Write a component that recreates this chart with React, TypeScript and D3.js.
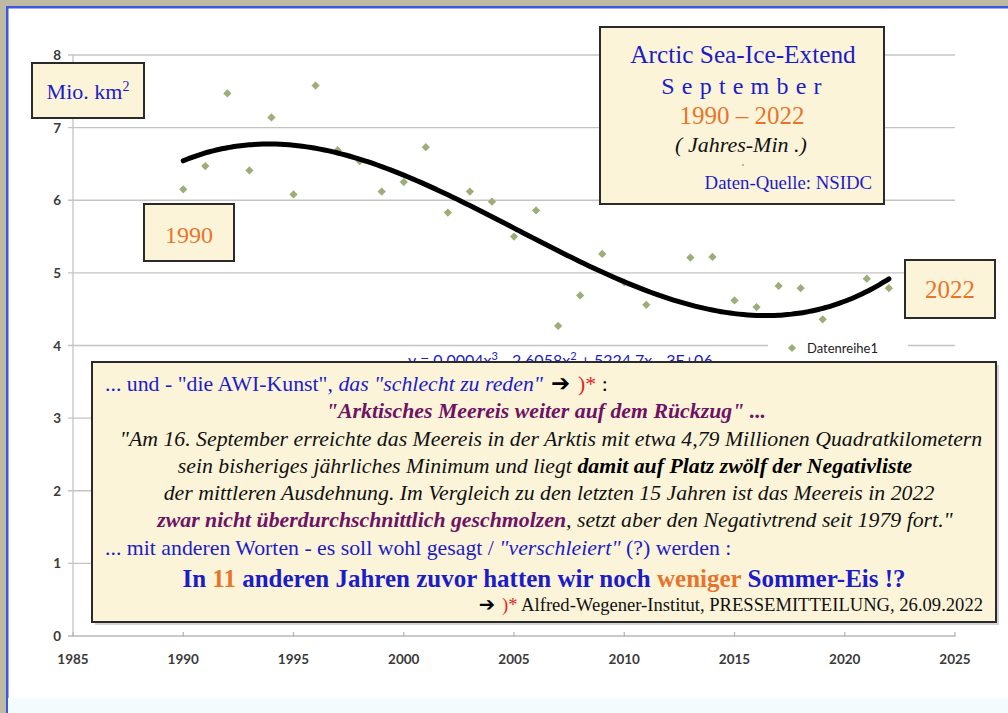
import React from 'react'
import * as d3 from 'd3'

// NSIDC September extent (Mio. km²)
const YEARS = [1990, 1991, 1992, 1993, 1994, 1995, 1996, 1997, 1998, 1999, 2000, 2001, 2002, 2003, 2004, 2005, 2006, 2007, 2008, 2009, 2010, 2011, 2012, 2013, 2014, 2015, 2016, 2017, 2018, 2019, 2020, 2021, 2022]
const EXTENT = [6.15, 6.47, 7.47, 6.41, 7.14, 6.08, 7.58, 6.69, 6.54, 6.12, 6.25, 6.73, 5.83, 6.12, 5.98, 5.5, 5.86, 4.27, 4.69, 5.26, 4.87, 4.56, 3.57, 5.21, 5.22, 4.62, 4.53, 4.82, 4.79, 4.36, 3.92, 4.92, 4.79]
const X_TICKS = [1985, 1990, 1995, 2000, 2005, 2010, 2015, 2020, 2025]
const Y_TICKS = [0, 1, 2, 3, 4, 5, 6, 7, 8]

const BLUE = '#1c1cc8'
const ORANGE = '#e8742c'
const PURPLE = '#6e1264'
const RED = '#e42424'
const CREAM = '#fbf4d9'
const SERIF = '"Liberation Serif", "Times New Roman", serif'
const SANS = 'Lato, "Open Sans", sans-serif'

// least squares cubic, like Excel's trendline
function polyfit(xs: number[], ys: number[], deg: number) {
  const n = deg + 1
  const m = Array.from({ length: n }, () => new Array(n + 1).fill(0))
  xs.forEach((x, k) => {
    for (let i = 0; i < n; i++) {
      for (let j = 0; j < n; j++) m[i][j] += Math.pow(x, i + j)
      m[i][n] += ys[k] * Math.pow(x, i)
    }
  })
  for (let c = 0; c < n; c++) {
    let p = c
    for (let r = c + 1; r < n; r++) if (Math.abs(m[r][c]) > Math.abs(m[p][c])) p = r
    ;[m[c], m[p]] = [m[p], m[c]]
    for (let r = 0; r < n; r++) {
      if (r === c) continue
      const f = m[r][c] / m[c][c]
      for (let j = c; j <= n; j++) m[r][j] -= f * m[c][j]
    }
  }
  const coef = m.map((row, i) => row[n] / row[i])
  return (x: number) => coef.reduce((s, a, i) => s + a * Math.pow(x, i), 0)
}

type Seg = { t: string, fill?: string, it?: boolean, b?: boolean }

const LINES: { y: number, anchor: 'start' | 'middle' | 'end', x: number, size: number, segs: Seg[] }[] = [
  { y: 391, anchor: 'start', x: 105, size: 21.8, segs: [
    { t: '... und - "die AWI-Kunst",', fill: BLUE },
    { t: ' das "schlecht zu reden"', fill: BLUE, it: true },
    { t: ' \u2794 ', fill: '#000', b: true },
    { t: ')*', fill: RED },
    { t: ' :', fill: '#000' }
  ] },
  { y: 418, anchor: 'middle', x: 546, size: 21.8, segs: [
    { t: '"Arktisches Meereis weiter auf dem Rückzug" ...', fill: PURPLE, it: true, b: true }
  ] },
  { y: 446, anchor: 'middle', x: 551, size: 21.8, segs: [
    { t: '"Am 16. September erreichte das Meereis in der Arktis mit etwa 4,79 Millionen Quadratkilometern', fill: '#111', it: true }
  ] },
  { y: 473, anchor: 'middle', x: 545, size: 21.8, segs: [
    { t: 'sein bisheriges jährliches Minimum und liegt ', fill: '#111', it: true },
    { t: 'damit auf Platz zwölf der Negativliste', fill: '#000', it: true, b: true }
  ] },
  { y: 500, anchor: 'middle', x: 549, size: 21.8, segs: [
    { t: 'der mittleren Ausdehnung. Im Vergleich zu den letzten 15 Jahren ist das Meereis in 2022', fill: '#111', it: true }
  ] },
  { y: 527, anchor: 'middle', x: 555, size: 21.8, segs: [
    { t: 'zwar nicht überdurchschnittlich geschmolzen', fill: PURPLE, it: true, b: true },
    { t: ', setzt aber den Negativtrend seit 1979 fort."', fill: '#111', it: true }
  ] },
  { y: 555, anchor: 'start', x: 105, size: 21.8, segs: [
    { t: '... mit anderen Worten - es soll wohl gesagt / ', fill: BLUE },
    { t: '"verschleiert"', fill: BLUE, it: true },
    { t: ' (?) werden :', fill: BLUE }
  ] },
  { y: 587, anchor: 'middle', x: 544, size: 25, segs: [
    { t: 'In ', fill: BLUE, b: true },
    { t: '11', fill: ORANGE, b: true },
    { t: ' anderen Jahren zuvor hatten wir noch ', fill: BLUE, b: true },
    { t: 'weniger', fill: ORANGE, b: true },
    { t: ' Sommer-Eis !?', fill: BLUE, b: true }
  ] },
  { y: 611, anchor: 'end', x: 983, size: 18.6, segs: [
    { t: '\u2794 ', fill: '#000', b: true },
    { t: ')*', fill: RED },
    { t: ' Alfred-Wegener-Institut, PRESSEMITTEILUNG, 26.09.2022', fill: '#111' }
  ] }
]

const Box = ({ x0, y0, x1, y1 }: { x0: number, y0: number, y1: number, x1: number }) => (
  <rect x={x0} y={y0} width={x1 - x0} height={y1 - y0} fill={CREAM} stroke="#2a2a2a" strokeWidth={2} />
)

export default function App() {
  const width = 1008
  const height = 713
  const x = d3.scaleLinear().domain([1985, 2025]).range([73, 955])
  const y = d3.scaleLinear().domain([0, 8]).range([636, 55])

  const fit = polyfit(YEARS.map(d => d - 2006), EXTENT, 3)
  const curveYears = d3.range(1990, 2022.001, 0.2)
  const line = d3.line<number>().x(d => x(d)).y(d => y(fit(d - 2006))).curve(d3.curveMonotoneX)
  const diamond = d3.symbol().type(d3.symbolSquare).size(34)

  return (
    <div style={{ position: 'absolute', left: 0, top: 0 }}>
      <svg width={width} height={height} style={{ display: 'block' }}>
        <rect width={width} height={height} fill="#fff" />
        <rect x={0} y={0} width={width} height={6} fill="#bdb9a3" />
        <rect x={0} y={0} width={6} height={height} fill="#bdb9a3" />
        <rect x={6} y={6} width={width - 6} height={2.5} fill="#3c56e0" />
        <rect x={6} y={6} width={2.5} height={height - 6} fill="#3c56e0" />
        <rect x={8} y={698} width={width - 8} height={15} fill="#f3fbfd" />

        {/* grid */}
        {Y_TICKS.filter(t => t > 0).map(t => (
          <line key={t} x1={68} x2={x(2025)} y1={y(t)} y2={y(t)} stroke="#c4c4c4" strokeWidth={1.3} />
        ))}
        <line x1={x(1985)} x2={x(1985)} y1={y(8)} y2={y(0)} stroke="#c4c4c4" strokeWidth={1.3} />
        <line x1={68} x2={x(2025)} y1={y(0)} y2={y(0)} stroke="#b8b8b8" strokeWidth={1.3} />
        {X_TICKS.map(t => (
          <line key={t} x1={x(t)} x2={x(t)} y1={y(0) - 4} y2={y(0) + 1} stroke="#b8b8b8" strokeWidth={1.3} />
        ))}
        {Y_TICKS.map(t => (
          <text key={t} x={61} y={y(t) + 5} textAnchor="end" fontFamily={SANS} fontSize={13.5} fontWeight={700} fill="#3a3a3a">{t}</text>
        ))}
        {X_TICKS.map(t => (
          <text key={t} x={x(t)} y={y(0) + 28} textAnchor="middle" fontFamily={SANS} fontSize={13.5} fontWeight={700} fill="#3a3a3a">{t}</text>
        ))}

        {/* points and trend */}
        {YEARS.map((yr, i) => (
          <path key={yr} d={diamond() as string} transform={`translate(${x(yr)},${y(EXTENT[i])}) rotate(45)`} fill="#9cad78" />
        ))}
        <path d={line(curveYears) as string} fill="none" stroke="#000" strokeWidth={5} strokeLinecap="round" />

        {/* trendline label and legend */}
        <text x={408} y={366} fontFamily={SANS} fontSize={16} fill={BLUE}>
          y = 0.0004x<tspan dy={-6} fontSize={11}>3</tspan><tspan dy={6}> - 2.6058x</tspan><tspan dy={-6} fontSize={11}>2</tspan><tspan dy={6}> + 5224.7x - 3E+06</tspan>
        </text>
        <rect x={768} y={333} width={140} height={28} fill="#fff" />
        <path d={diamond() as string} transform="translate(792,348) rotate(45)" fill="#9cad78" />
        <text x={807} y={353} fontFamily={SANS} fontSize={13} fill="#222">Datenreihe1</text>

        {/* boxes */}
        <Box x0={32} y0={63} x1={144} y1={118} />
        <text x={88} y={99} textAnchor="middle" fontFamily={SERIF} fontSize={22} fill={BLUE}>
          Mio. km<tspan dy={-8} fontSize={14}>2</tspan>
        </text>

        <Box x0={144} y0={204} x1={234} y1={261} />
        <text x={189} y={243} textAnchor="middle" fontFamily={SERIF} fontSize={24} fill={ORANGE}>1990</text>

        <Box x0={905} y0={260} x1={995} y1={318} />
        <text x={950} y={298} textAnchor="middle" fontFamily={SERIF} fontSize={25} fill={ORANGE}>2022</text>

        <Box x0={600} y0={27} x1={884} y1={204} />
        <text x={743} y={63} textAnchor="middle" fontFamily={SERIF} fontSize={25.3} fill={BLUE}>Arctic Sea-Ice-Extend</text>
        <text x={745} y={94} textAnchor="middle" fontFamily={SERIF} fontSize={24} fill={BLUE} letterSpacing={7.2}>September</text>
        <text x={742} y={124} textAnchor="middle" fontFamily={SERIF} fontSize={25} fill={ORANGE}>1990 – 2022</text>
        <text x={741} y={152} textAnchor="middle" fontFamily={SERIF} fontSize={22} fontStyle="italic" fill="#111">( Jahres-Min .)</text>
        <circle cx={743} cy={165} r={0.8} fill="#666" />
        <text x={872} y={189} textAnchor="end" fontFamily={SERIF} fontSize={18.8} fill={BLUE}>Daten-Quelle: NSIDC</text>

        <g>
          <rect x={95} y={365} width={904} height={260} fill="#888" opacity={0.35} />
          <Box x0={92} y0={362} x1={996} y1={622} />
          {LINES.map((ln, i) => (
            <text key={i} x={ln.x} y={ln.y} textAnchor={ln.anchor} fontFamily={SERIF} fontSize={ln.size}>
              {ln.segs.map((s, j) => (
                <tspan key={j} fill={s.fill} fontStyle={s.it ? 'italic' : 'normal'} fontWeight={s.b ? 700 : 400}
                  fontFamily={s.t.includes('\u2794') ? '"DejaVu Sans", sans-serif' : undefined}
                  fontSize={s.t.includes('\u2794') ? ln.size * 1.05 : undefined}>{s.t}</tspan>
              ))}
            </text>
          ))}
        </g>
      </svg>
    </div>
  )
}
